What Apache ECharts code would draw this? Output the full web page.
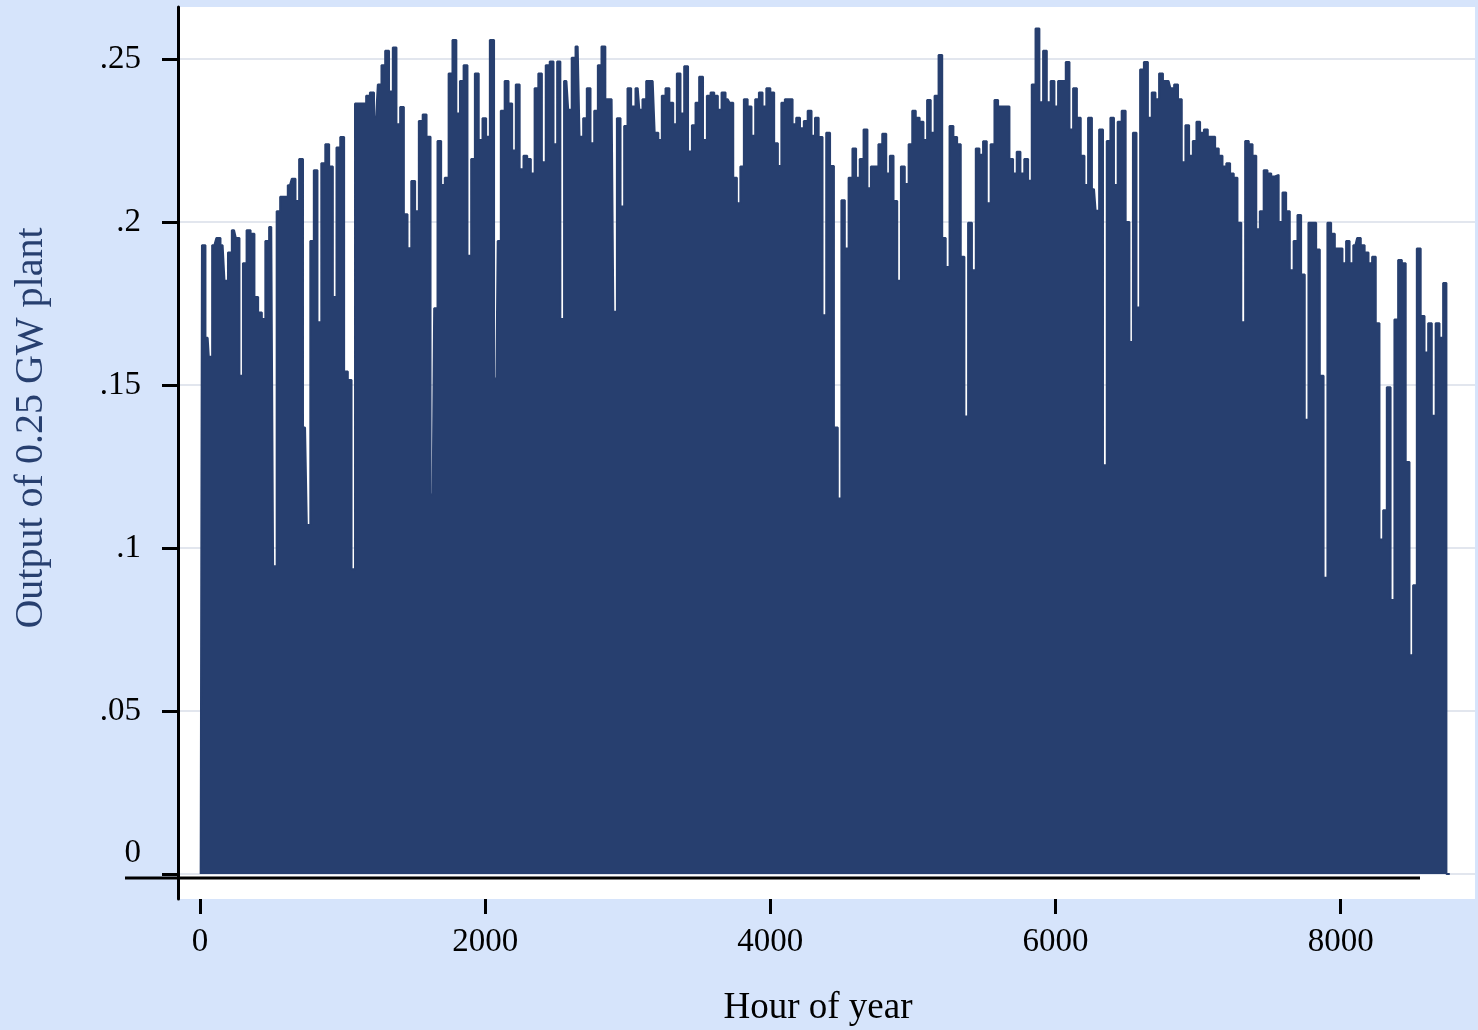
<!DOCTYPE html>
<html>
<head>
<meta charset="utf-8">
<script src="https://cdn.jsdelivr.net/npm/echarts@6/dist/echarts.min.js"></script>
<style>
  html, body { margin: 0; padding: 0; background: #d6e4fb; }
  #content { width: 1478px; height: 1030px; }
</style>
</head>
<body>
<div id="content"></div>
<script>
// daily peak output (hour of year, GW)
var hours = [
    5,
    23, 54, 70, 101, 129, 159, 185, 208, 239, 264, 290, 313, 341, 369, 395, 421, 447, 470, 500, 526,
    550, 575, 601, 631, 657, 683, 708, 737, 762, 786, 811, 837, 865, 893, 919, 945, 970, 998, 1024, 1050,
    1076, 1099, 1127, 1153, 1178, 1206, 1235, 1260, 1286, 1312, 1340, 1365, 1391, 1417, 1443, 1468, 1496,
    1522, 1548, 1576, 1602, 1632, 1653, 1679, 1704, 1730, 1758, 1784, 1812, 1835, 1863, 1889, 1915, 1941, 1969, 1994, 2020,
    2046, 2079, 2097, 2123, 2151, 2177, 2202, 2228, 2256, 2282, 2308, 2333, 2361, 2385, 2411, 2439, 2467, 2492, 2518, 2537,
    2570, 2595, 2619, 2649, 2675, 2700, 2726, 2752, 2778, 2803, 2829, 2857, 2887, 2911, 2937, 2962, 2988, 3009,
    3039, 3070, 3093, 3114, 3145, 3175, 3203, 3226, 3252, 3278, 3306, 3332, 3357, 3383, 3409, 3437, 3463, 3488, 3514, 3542,
    3568, 3594, 3619, 3645, 3671, 3701, 3727, 3753, 3778, 3802, 3827, 3855, 3881, 3907, 3933, 3958, 3986, 4014, 4040, 4066,
    4089, 4115, 4143, 4169, 4194, 4222, 4248, 4276, 4302, 4325, 4353, 4379, 4405, 4433, 4459, 4487, 4510,
    4535, 4563, 4589, 4614, 4640, 4668, 4694, 4717, 4745, 4771, 4799, 4827, 4850, 4878, 4902, 4930, 4956, 4984, 5007, 5033,
    5061, 5087, 5112, 5138, 5166, 5194, 5217, 5243, 5271, 5297, 5323, 5348, 5374, 5400, 5428, 5454, 5479, 5505, 5531, 5559,
    5585, 5610, 5638, 5664, 5690, 5715, 5741, 5767, 5795, 5821, 5846, 5874, 5900, 5926, 5952, 5980, 6005,
    6031, 6059, 6085, 6111, 6136, 6164, 6190, 6216, 6241, 6270, 6293, 6319, 6347, 6372, 6398, 6422, 6450, 6478, 6506, 6531,
    6555, 6581, 6606, 6634, 6662, 6688, 6714, 6739, 6768, 6793, 6819, 6845, 6873, 6898, 6924, 6950, 6976, 7001, 7027, 7055,
    7081, 7107, 7132, 7158, 7184, 7212, 7237, 7263, 7289, 7317, 7343, 7368, 7396, 7420, 7446, 7474, 7499, 7527,
    7551, 7579, 7605, 7630, 7656, 7684, 7710, 7735, 7761, 7787, 7815, 7841, 7866, 7894, 7920, 7946, 7972, 8000, 8025, 8051,
    8074, 8103, 8128, 8154, 8182, 8208, 8233, 8259, 8285, 8311, 8336, 8364, 8390, 8416, 8442, 8470, 8495, 8521, 8547, 8575,
    8601, 8626, 8652, 8680, 8706, 8731,
    8752, 8765
];
var output = [
    0,
    .1929, .1645, .1587, .1929, .1951, .1929, .1820, .1907, .1975, .1951, .1529, .1874, .1975, .1964, .1770, .1723, .1703, .1942, .1985, .0944,
    .2033, .2078, .2078, .2113, .2133, .2065, .2194, .1370, .1071, .1942, .2159, .1693, .2181, .2239, .2171, .1770, .2229, .2261, .1542, .1516,
    .0935, .2364, .2364, .2364, .2388, .2398, .2323, .2422, .2481, .2526, .2401, .2536, .2300, .2353, .2024, .1920, .2126,
    .2033, .2310, .2330, .2262, .1164, .1736, .2249, .2114, .2136, .2456, .2559, .2333, .2433, .2481, .1897, .2194, .2456, .2252, .2319, .2262,
    .2559, .1520, .1942, .2342, .2433, .2364, .2220, .2422, .2162, .2204, .2194, .2149, .2411, .2456, .2184, .2481, .2493, .2239, .2493, .1703,
    .2433, .2345, .2504, .2539, .2262, .2319, .2411, .2242, .2342, .2481, .2539, .2377, .2377, .1725, .2319, .2048, .2295, .2411,
    .2355, .2411, .2345, .2377, .2433, .2433, .2274, .2252, .2388, .2411, .2366, .2300, .2456, .2333, .2478, .2217, .2297, .2366, .2446, .2252,
    .2388, .2398, .2388, .2345, .2398, .2377, .2366, .2136, .2058, .2171, .2377, .2355, .2265, .2377, .2398, .2355, .2411, .2398, .2242, .2172,
    .2366, .2377, .2377, .2300, .2320, .2288, .2310, .2342, .2265, .2320, .2261, .1714, .2274, .2172, .1370, .1152, .2067,
    .1919, .2136, .2226, .2136, .2194, .2284, .2104, .2171, .2171, .2239, .2271, .2149, .2204, .2065, .1820, .2171, .2117, .2239, .2342, .2320,
    .2308, .2252, .2375, .2274, .2388, .2513, .1951, .1862, .2295, .2261, .2239, .1894, .1404, .1998, .1852, .2226, .2207, .2248, .2058, .2239,
    .2375, .2355, .2355, .2355, .2194, .2149, .2216, .2149, .2194, .2127, .2422, .2594, .2368, .2526, .2368, .2433, .2355,
    .2433, .2433, .2491, .2284, .2411, .2320, .2204, .2114, .2320, .2101, .2035, .2284, .1254, .2249, .2320, .2114, .2308, .2342, .2000, .1632,
    .2274, .1738, .2468, .2491, .2320, .2398, .2377, .2456, .2433, .2433, .2411, .2422, .2377, .2184, .2297, .2204, .2249, .2308, .2274, .2284,
    .2262, .2262, .2226, .2204, .2171, .2181, .2149, .2136, .1998, .1693, .2249, .2239, .2204, .1978, .2033, .2159, .2149, .2140,
    .2145, .2000, .2091, .2033, .1852, .1942, .2022, .1839, .1394, .1998, .1998, .1916, .1529, .0909, .1998, .1964, .1919, .1919, .1874, .1942,
    .1874, .1929, .1951, .1929, .1907, .1874, .1894, .1690, .1026, .1116, .1493, .0841, .1701, .1884, .1874, .1264, .0671, .0886, .1919, .1712,
    .1600, .1690, .1406, .1690, .1645, .1813,
    0, 0
];
var xTicks = [0, 2000, 4000, 6000, 8000];
var yTicks = [0, 0.05, 0.1, 0.15, 0.2, 0.25];

var serif = "'Liberation Serif', 'DejaVu Serif', serif";
var navy = '#273f6f';

var data = hours.map(function (h, i) { return [h, output[i]]; });

var myChart = echarts.init(document.getElementById('content'));

var option = {
    backgroundColor: '#d6e4fb',
    animation: false,
    grid: {
        left: 178,
        right: 3,
        top: 7,
        bottom: 131,
        show: true,
        backgroundColor: '#ffffff',
        borderWidth: 0
    },
    xAxis: {
        type: 'value',
        min: -154,
        max: 8942,
        axisLine: {show: false, onZero: false},
        axisTick: {
            customValues: xTicks,
            length: 15,
            lineStyle: {color: '#000', width: 3}
        },
        axisLabel: {
            customValues: xTicks,
            margin: 27,
            fontSize: 33,
            fontFamily: serif,
            color: '#000',
            formatter: function (v) { return String(v); }
        },
        splitLine: {show: false}
    },
    yAxis: {
        type: 'value',
        min: -0.00767,
        max: 0.266,
        axisLine: {show: true, onZero: false, lineStyle: {color: '#000', width: 3}},
        axisTick: {
            customValues: yTicks,
            length: 16,
            lineStyle: {color: '#000', width: 3}
        },
        axisLabel: {
            customValues: yTicks,
            margin: 37,
            fontSize: 33,
            fontFamily: serif,
            color: '#000',
            formatter: function (v) {
                if (v === 0) return '{z|0}';
                return String(v).replace(/^0/, '');
            },
            rich: {
                z: {fontSize: 33, fontFamily: serif, color: '#000', padding: [0, 0, 42, 0]}
            }
        },
        splitLine: {
            show: true,
            lineStyle: {color: '#e2e6ee', width: 2}
        }
    },
    graphic: [
        {
            type: 'line',
            z: 100,
            shape: {x1: 125, y1: 878, x2: 1420, y2: 878},
            style: {stroke: '#000', lineWidth: 3}
        },
        {
            type: 'text',
            x: 31,
            y: 428,
            rotation: Math.PI / 2,
            style: {
                text: 'Output of 0.25 GW plant',
                font: '40px ' + serif,
                fill: navy,
                align: 'center',
                verticalAlign: 'middle',
                textAlign: 'center',
                textVerticalAlign: 'middle'
            }
        },
        {
            type: 'text',
            x: 818,
            y: 1008,
            style: {
                text: 'Hour of year',
                font: '37px ' + serif,
                fill: '#000',
                align: 'center',
                verticalAlign: 'middle',
                textAlign: 'center',
                textVerticalAlign: 'middle'
            }
        }
    ],
    series: [
        {
            type: 'line',
            data: data,
            step: 'middle',
            symbol: 'none',
            lineStyle: {color: navy, width: 2},
            areaStyle: {color: navy, opacity: 1},
            z: 2
        }
    ]
};
myChart.setOption(option);
</script>
</body>
</html>
